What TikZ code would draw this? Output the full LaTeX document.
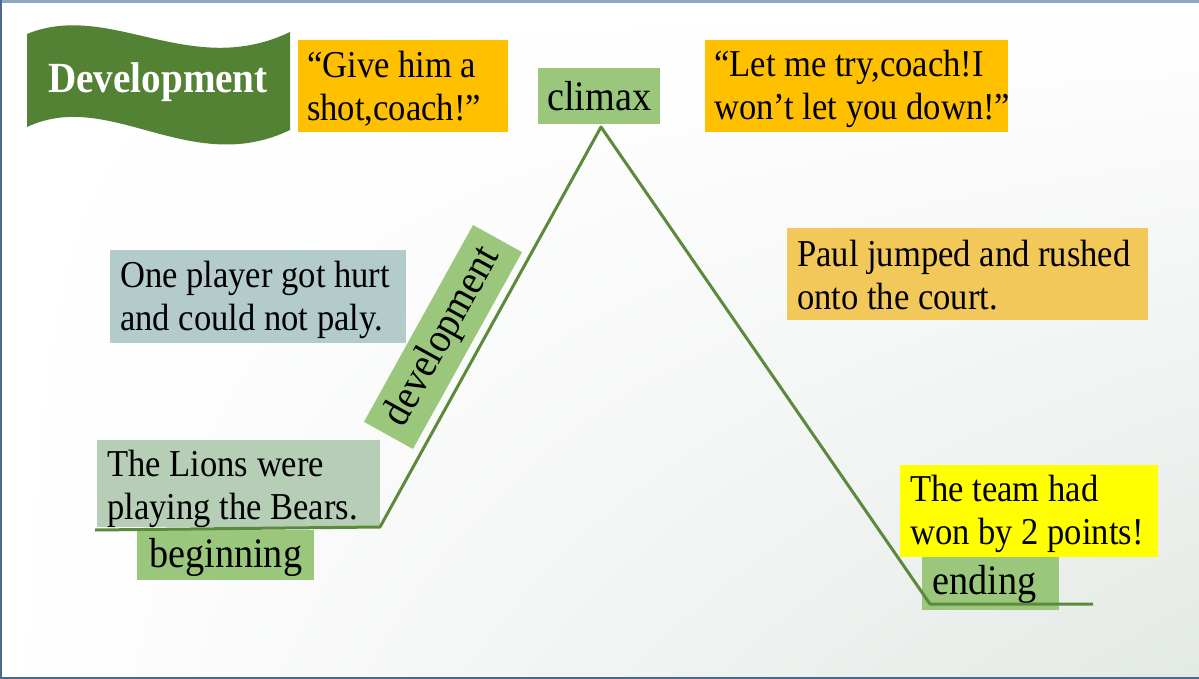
\documentclass[tikz,border=0pt]{standalone}
\usepackage{fontspec}
\setmainfont[FakeStretch=0.91]{Liberation Serif}
\usetikzlibrary{shadings}
\definecolor{bannergreen}{HTML}{548235}
\definecolor{linegreen}{HTML}{5B8A3C}
\definecolor{labelgreen}{HTML}{9AC77C}
\definecolor{quoteorange}{HTML}{FFC000}
\definecolor{paulorange}{HTML}{F2C85B}
\definecolor{hurtblue}{HTML}{B4CBCC}
\definecolor{lionsgreen}{HTML}{B5CEB5}
\definecolor{wonyellow}{HTML}{FFFF00}
\definecolor{topbar}{HTML}{8DA7C5}
\definecolor{edgeblue}{HTML}{4A6A8C}
\definecolor{cornergray}{HTML}{E3E9E5}
\tikzset{
  panel/.style={anchor=north west, inner sep=0pt, draw=none},
  txt/.style={anchor=west, font=\fontsize{38}{43}\selectfont, align=left, inner sep=0pt, text=black},
  lbl/.style={font=\fontsize{42}{46}\selectfont, inner sep=0pt, text=black},
  plotline/.style={draw=linegreen, line width=3pt, line join=round},
}
\begin{document}
\begin{tikzpicture}[x=1pt,y=-1pt]
\useasboundingbox (0,0) rectangle (1199,679);
% background
\shade[upper left=white, upper right=white, lower left=white, lower right=cornergray] (0,0) rectangle (1199,679);
\fill[topbar] (0,0) rectangle (1199,3);
\fill[edgeblue] (0,0) rectangle (1.5,679);
\fill[edgeblue] (0,676.5) rectangle (1199,679);
% banner
\fill[bannergreen] (27,34) .. controls (110,0) and (190,80) .. (290,32)
  -- (290,130) .. controls (190,178) and (110,88) .. (27,127) -- cycle;
\node[font=\fontsize{43}{46}\selectfont\bfseries, text=white, inner sep=0pt] (banner) at (158,82) {Development};
% text panels
\node[panel, fill=quoteorange, minimum width=210pt, minimum height=92pt] (q1) at (298,40) {};
\node[txt] (q1t) at ([xshift=9pt,yshift=-3pt]q1.west) {“Give him a\\shot,coach!”};
\node[panel, fill=quoteorange, minimum width=303pt, minimum height=92pt] (q2) at (705,40) {};
\node[txt] (q2t) at ([xshift=9pt,yshift=-3pt]q2.west) {“Let me try,coach!I\\won’t let you down!”};
\node[panel, fill=hurtblue, minimum width=296pt, minimum height=93pt] (hurt) at (110,250) {};
\node[txt] (hurtt) at ([xshift=10pt,yshift=-3pt]hurt.west) {One player got hurt\\and could not paly.};
\node[panel, fill=paulorange, minimum width=361pt, minimum height=92pt] (paul) at (787,228) {};
\node[txt] (present) at ([xshift=10pt,yshift=-1pt]paul.west) {Paul jumped and rushed\\onto the court.};
\node[panel, fill=lionsgreen, minimum width=283pt, minimum height=87pt] (lions) at (97,440) {};
\node[txt] (lionst) at ([xshift=10pt,yshift=-5pt]lions.west) {The Lions were\\playing the Bears.};
\node[panel, fill=wonyellow, minimum width=258pt, minimum height=92pt] (won) at (900,465) {};
\node[txt] (wont) at ([xshift=10pt,yshift=-3pt]won.west) {The team had\\won by 2 points!};
% labels
\node[panel, fill=labelgreen, minimum width=122pt, minimum height=56pt] (climax) at (538,68) {};
\node[lbl] (climaxt) at (climax.center) {climax};
\node[panel, fill=labelgreen, minimum width=177pt, minimum height=50pt] (beginning) at (137,530) {};
\node[lbl] (beginningt) at ([yshift=-2pt]beginning.center) {beginning};
\node[panel, fill=labelgreen, minimum width=137pt, minimum height=53pt] (ending) at (922,557) {};
\node[lbl, anchor=west] (endingt) at ([xshift=10pt,yshift=-1pt]ending.west) {ending};
\node[lbl, fill=labelgreen, minimum width=225pt, minimum height=56pt, rotate=61] (devel) at (443,337) {development};
% plot line
\coordinate (b0) at (95,530);
\coordinate (b1) at (380,527);
\coordinate (apex) at (601,127);
\coordinate (e0) at (930,604);
\coordinate (e1) at (1093,604);
\draw[plotline] (b0) -- (b1) -- (apex) -- (e0) -- (e1);
\end{tikzpicture}
\end{document}
